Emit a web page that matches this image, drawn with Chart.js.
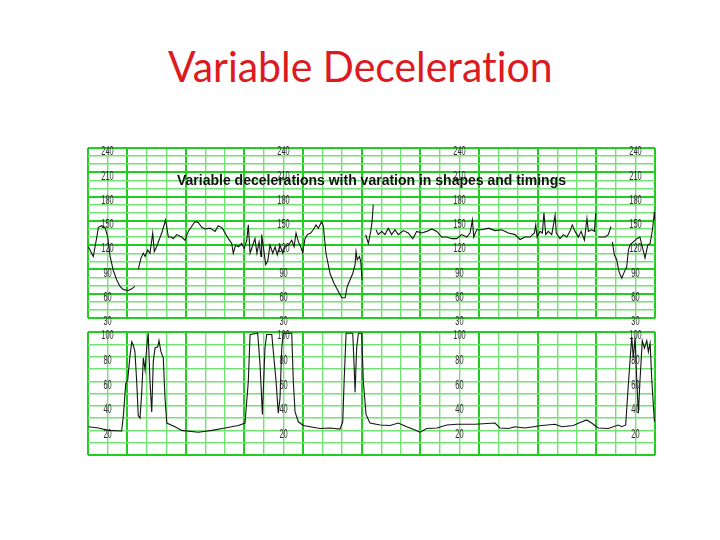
<!DOCTYPE html>
<html>
<head>
<meta charset="utf-8">
<script src="https://cdn.jsdelivr.net/npm/chart.js@4.4.0/dist/chart.umd.min.js"></script>
<style>
    html, body { margin: 0; padding: 0; background: #fff; }
    body { width: 720px; height: 540px; position: relative; overflow: hidden; }
    #title { position: absolute; left: 0; top: 41px; width: 720px; text-align: center;
             color: #dd1a1f; font-family: Lato, "Open Sans", sans-serif; font-size: 42px;
             font-variant-ligatures: none; }
    #title span { display: inline-block; transform: scaleX(0.975); }
    #sub { position: absolute; left: 88px; width: 567px; top: 172px; text-align: center;
           font: bold 14px "Liberation Sans", Arial, sans-serif; color: #111; }
    .wrap { position: absolute; }
</style>
</head>
<body>
<div id="title"><span>Variable Deceleration</span></div>
<div class="wrap" style="left:84px; top:144px;"><canvas id="fhr"></canvas></div>
<div class="wrap" style="left:84px; top:327px;"><canvas id="uc"></canvas></div>
<div id="sub">Variable decelerations with varation in shapes and timings</div>

<script>
// time in seconds (one small box = 10 s), null = pen lifted
const fhrTime = [
    0.2, 2.7, 4.5, 5.3, 7.0, 8.7, 10.1, 11.3, 12.9, 14.7, 16.4, 18.1, 20.6, 22.4, 24.0,
    24.8,
    25.7, 27.1, 28.3, 29.2, 30.5, 31.7, 33.1, 33.9, 35.1, 36.3, 37.7, 39.7, 41.1, 42.5, 43.6, 45.4, 47.9, 49.6, 51.3, 53.0,
    54.7, 56.4, 58.2, 59.8, 62.4, 65.0, 66.6, 68.7, 70.1, 71.8, 73.5, 74.3, 75.5, 76.9, 78.6, 79.9, 81.2, 82.0, 82.9, 84.0,
    85.4, 86.4, 87.5, 88.5, 88.8, 90.9, 91.9, 93.1, 94.5, 95.7, 96.8, 98.2, 99.6, 100.8, 102.5, 104.2, 105.4, 106.4, 107.6, 108.8,
    109.8, 111.0, 112.2, 113.9, 115.2, 116.6, 117.8, 119.5, 120.4, 121.7, 123.8, 125.8, 128.0, 129.8, 131.5, 132.6, 134.0, 135.4, 136.6, 137.1,
    137.7, 138.8, 139.5, 140.2,
    141.1,
    142.0, 143.4, 144.6, 145.3, 145.9,
    146.6,
    147.3, 148.5, 150.2, 151.9, 153.6, 155.3, 157.0, 158.7, 161.3, 163.8, 166.1, 168.1, 170.7, 173.2, 175.8, 178.4, 180.9, 183.5, 186.0, 188.6,
    191.1, 193.7, 195.4, 196.6, 197.3, 198.8, 201.4, 204.8, 208.2, 211.6, 215.0, 218.4, 221.0, 223.5, 226.1, 228.3, 229.0, 229.7, 231.2, 232.4,
    233.2, 234.1, 235.4, 237.2, 238.9, 239.5, 241.4, 243.1, 244.9, 246.5, 247.7, 249.1, 250.8, 252.2, 253.9, 255.2, 255.9, 257.6, 259.0, 259.7,
    260.3,
    261.0, 262.8, 264.5, 266.1, 267.5,
    267.9,
    268.2, 269.2, 270.4, 271.6, 273.0, 274.3, 275.5, 276.4, 277.2, 278.9, 280.7, 282.3, 283.5, 284.9, 286.3, 287.5, 288.7, 289.7, 290.0
];
const fhrBpm = [
    118, 106, 130, 142, 144, 142, 130, 106, 89, 77, 69, 65, 64, 66, 69,
    null,
    90, 104, 110, 106, 114, 110, 135, 112, 118, 126, 135, 151, 130, 130, 128, 133, 130, 126, 137, 143,
    149, 148, 142, 140, 141, 137, 144, 141, 135, 128, 122, 110, 120, 118, 122, 116, 126, 145, 110, 118,
    128, 110, 124, 106, 133, 96, 100, 120, 110, 118, 108, 120, 110, 118, 120, 126, 118, 135, 124, 118,
    111, 128, 133, 135, 139, 145, 141, 149, 143, 110, 85, 73, 63, 55, 55, 69, 77, 85, 96, 112,
    102, 106, 100, 77,
    null,
    133, 122, 137, 149, 170,
    null,
    139, 133, 137, 133, 141, 133, 139, 133, 138, 135, 128, 137, 135, 137, 140, 137, 130, 130, 128, 128,
    133, 130, 135, 151, 130, 139, 139, 141, 138, 139, 135, 133, 127, 130, 130, 135, 145, 130, 137, 135,
    160, 133, 137, 133, 157, 135, 128, 133, 130, 137, 145, 137, 130, 137, 126, 153, 137, 139, 137, 160,
    null,
    130, 130, 130, 133, 143,
    null,
    124, 108, 102, 87, 79, 87, 93, 114, 120, 124, 128, 130, 118, 104, 120, 122, 139, 161, 151
];

const ucTime = [
    0.2, 5.3, 10.4, 17.2, 18.1, 19.3, 20.3, 21.5, 22.4, 23.2, 24.0, 24.9, 25.7, 26.6, 27.5, 28.3, 29.2, 30.0, 30.8, 31.7,
    32.6, 33.4, 34.3, 35.7, 36.3, 37.3, 38.5, 39.4, 40.3, 44.5, 47.9, 56.4, 63.3, 70.1, 76.9, 80.3, 82.0, 82.9, 86.8, 88.0,
    89.2, 90.5, 91.4, 94.0, 94.8, 96.2, 97.3, 98.2, 99.1, 99.9, 104.2, 105.0, 105.9, 107.6, 110.1, 113.6, 118.7, 123.8, 128.9, 130.3,
    131.0, 132.0, 135.4, 136.1, 136.6, 137.4, 138.3, 140.0, 140.8, 142.2, 144.2, 149.4, 154.5, 158.7, 163.0, 166.4, 169.8, 173.2, 178.4, 183.5,
    188.6, 198.0, 208.2, 210.7, 215.0, 218.4, 223.5, 232.1, 238.9, 242.3, 248.2, 251.7, 255.1, 257.6, 261.0, 266.1, 271.2, 273.0, 275.0, 276.1,
    277.2, 278.1, 278.9, 279.8, 280.7, 281.5, 282.3, 283.5, 284.6, 285.8, 286.6, 287.5, 288.4, 289.7
];
const ucValue = [
    23, 22, 20, 19.5, 32, 58, 61, 81, 92, 89, 84, 60, 32, 30, 51, 79, 69, 87, 99, 60,
    35, 76, 87, 88, 93, 84, 79, 46, 26, 23, 20, 18.5, 20, 22, 24, 26, 60, 98, 99, 73,
    33, 87, 98, 98, 84, 60, 34, 46, 87, 99, 99, 60, 35, 27, 24, 23, 21.5, 22, 21, 27,
    60, 99, 99, 73, 51, 87, 99, 99, 60, 33, 26, 24.4, 24, 26, 23, 21, 18.5, 21.5, 22, 24.4,
    25, 25, 26, 22, 21.5, 23, 22, 24, 25, 23, 24, 26.5, 28.5, 26, 22, 21.5, 24.4, 23, 24.4, 51,
    76, 96, 79, 95, 60, 34, 60, 93, 87, 93, 84, 91, 60, 27
];

// printed scale numbers on the paper
const labelTimes = [10, 100, 190, 280];
const fhrLabels = [240, 210, 180, 150, 120, 90, 60, 30];
const ucLabels = [100, 80, 60, 40, 20];

const majorGreen = '#1ecf1e';
const minorGreen = '#72e272';

const inlineLabels = {
    id: 'inlineLabels',
    beforeDatasetsDraw(chart, args, opts) {
        const { ctx, scales: { x, y } } = chart;
        ctx.save();
        ctx.fillStyle = '#2e2e2e';
        ctx.font = '12px "Liberation Sans", Arial, sans-serif';
        ctx.textAlign = 'center';
        ctx.textBaseline = 'middle';
        labelTimes.forEach(t => {
            opts.values.forEach(v => {
                ctx.save();
                ctx.translate(x.getPixelForValue(t), y.getPixelForValue(v) + 4);
                ctx.scale(0.62, 1);
                ctx.fillText(String(v), 0, 0);
                ctx.restore();
            });
        });
        ctx.restore();
    }
};

function isMajorX(v) {
    return v === 0 || v === 290 || (v - 20) % 30 === 0;
}

function xAxis() {
    return {
        type: 'linear', min: 0, max: 290,
        ticks: { display: false, stepSize: 10, autoSkip: false },
        grid: {
            drawTicks: false,
            color: c => isMajorX(c.tick.value) ? majorGreen : minorGreen,
            lineWidth: c => isMajorX(c.tick.value) ? 2 : 1.4
        },
        border: { display: false }
    };
}

function makeChart(id, w, h, pad, times, values, yMin, yMax, isMajorY, labels) {
    const canvas = document.getElementById(id);
    canvas.setAttribute('width', w);
    canvas.setAttribute('height', h);
    return new Chart(canvas, {
        type: 'line',
        data: {
            datasets: [{
                data: times.map((t, i) => ({ x: t, y: values[i] })),
                borderColor: '#151515',
                borderWidth: 1.1,
                pointRadius: 0,
                tension: 0,
                spanGaps: false
            }]
        },
        options: {
            responsive: false,
            animation: false,
            layout: { padding: pad, autoPadding: false },
            scales: {
                x: xAxis(),
                y: {
                    min: yMin, max: yMax,
                    ticks: { display: false, stepSize: 10, autoSkip: false },
                    grid: {
                        drawTicks: false,
                        color: c => isMajorY(c.tick.value) ? majorGreen : minorGreen,
                        lineWidth: c => isMajorY(c.tick.value) ? 2 : 1.4
                    },
                    border: { display: false }
                }
            },
            plugins: {
                legend: { display: false },
                tooltip: { enabled: false },
                inlineLabels: { values: labels }
            }
        },
        plugins: [inlineLabels]
    });
}

makeChart('fhr', 575, 186, { left: 4, right: 4, top: 4, bottom: 12 },
    fhrTime, fhrBpm, 30, 240, v => v % 30 === 0, fhrLabels);
makeChart('uc', 575, 140, { left: 4, right: 4, top: 5, bottom: 12 },
    ucTime, ucValue, 0, 100, v => v === 0 || v === 100, ucLabels);
</script>
</body>
</html>
